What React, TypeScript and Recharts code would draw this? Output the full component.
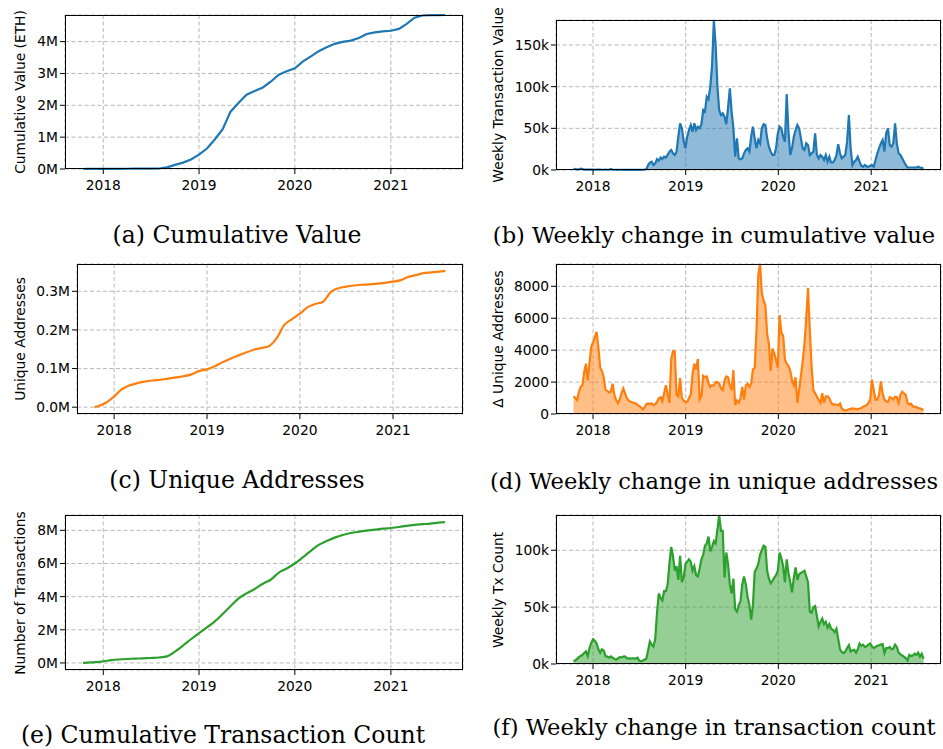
import { LineChart, Line, AreaChart, Area, XAxis, YAxis, CartesianGrid } from "recharts";

// month sample dates for the cumulative curves
const monthDates = [
  "2017-10-16", "2017-11-01", "2017-12-01",
  "2018-01-01", "2018-02-01", "2018-03-01", "2018-04-01", "2018-05-01", "2018-06-01",
  "2018-07-01", "2018-08-01", "2018-09-01", "2018-10-01", "2018-11-01", "2018-12-01",
  "2019-01-01", "2019-02-01", "2019-03-01", "2019-04-01", "2019-05-01", "2019-06-01",
  "2019-07-01", "2019-08-01", "2019-09-01", "2019-10-01", "2019-11-01", "2019-12-01",
  "2020-01-01", "2020-02-01", "2020-03-01", "2020-04-01", "2020-05-01", "2020-06-01",
  "2020-07-01", "2020-08-01", "2020-09-01", "2020-10-01", "2020-11-01", "2020-12-01",
  "2021-01-01", "2021-02-01", "2021-03-01", "2021-04-01", "2021-05-01", "2021-06-01",
  "2021-07-01", "2021-07-26",
];

// (a) cumulative value, M ETH
const cumValue = [
  0, 0.002, 0.004,
  0.005, 0.006, 0.007, 0.008, 0.009, 0.01, 0.011, 0.015, 0.05, 0.13, 0.2, 0.3,
  0.45, 0.65, 0.92, 1.25, 1.8, 2.08, 2.33, 2.45, 2.56, 2.74, 2.96, 3.07,
  3.16, 3.38, 3.53, 3.7, 3.82, 3.93, 3.99, 4.03, 4.11, 4.24, 4.29, 4.32,
  4.34, 4.4, 4.55, 4.75, 4.82, 4.83, 4.833, 4.835,
];

// (c) unique addresses, M
const cumAddr = [
  0, 0.003, 0.012,
  0.028, 0.047, 0.056, 0.062, 0.066, 0.069, 0.071, 0.074, 0.077, 0.08, 0.085, 0.094,
  0.098, 0.106, 0.116, 0.125, 0.133, 0.141, 0.148, 0.153, 0.158, 0.178, 0.213, 0.228,
  0.242, 0.259, 0.267, 0.273, 0.298, 0.308, 0.312, 0.315, 0.317, 0.318, 0.32, 0.322,
  0.325, 0.329, 0.337, 0.342, 0.347, 0.349, 0.351, 0.353,
];

// (e) cumulative tx count, M
const cumTx = [
  0, 0.02, 0.05,
  0.1, 0.17, 0.21, 0.24, 0.26, 0.28, 0.3, 0.33, 0.4, 0.68, 1.05, 1.43,
  1.8, 2.16, 2.49, 2.95, 3.42, 3.9, 4.2, 4.46, 4.78, 5.02, 5.45, 5.7,
  6.0, 6.38, 6.75, 7.12, 7.35, 7.56, 7.72, 7.84, 7.92, 7.98, 8.04, 8.1,
  8.14, 8.2, 8.27, 8.33, 8.37, 8.41, 8.47, 8.5,
];

// weekly series, first week 2017-10-16
const firstWeek = "2017-10-16";

// (b) weekly transaction value, k ETH
const weeklyValue = [
  1.5, 1, 0.8, 0.6, 1.5, 1.2, 0.5, 0.4, 0.6, 0.5,
  0.4, 0.5, 0.3, 0.4, 0.5, 0.4, 0.3, 0.3, 0.4, 0.3,
  0.6, 1, 0.5, 0.3, 0.3, 0.2, 0.3, 0.3, 0.2, 0.2,
  0.3, 0.2, 0.2, 0.3, 0.2, 0.2, 0.2, 0.3, 0.2, 0.3,
  0.5, 1, 6, 9, 10, 6, 8, 13, 11, 15,
  13, 16, 15, 18, 22, 24, 20, 18, 22, 40,
  56, 50, 35, 26, 40, 48, 54, 46, 56, 48,
  52, 50, 55, 72, 70, 88, 85, 100, 125, 180,
  150, 100, 72, 66, 68, 64, 55, 75, 98, 70,
  50, 16, 38, 14, 13, 14, 20, 24, 26, 22,
  40, 52, 38, 26, 36, 32, 50, 55, 54, 38,
  28, 22, 18, 18, 26, 44, 52, 50, 40, 34,
  91, 46, 18, 26, 40, 48, 54, 50, 38, 26,
  24, 32, 30, 18, 20, 22, 44, 18, 14, 18,
  16, 12, 18, 10, 16, 9, 9, 12, 18, 31,
  20, 14, 16, 18, 34, 66, 26, 6, 10, 12,
  16, 10, 5, 4, 6, 4, 4, 5, 6, 4,
  12, 20, 26, 32, 36, 22, 44, 50, 30, 28,
  32, 56, 32, 20, 18, 14, 10, 6, 3, 3,
  3, 3, 3, 3, 4, 3, 2.5, 1.5,
];

// (d) weekly change in unique addresses
const weeklyAddr = [
  1120, 1000, 870, 1350, 1700, 1800, 2600, 3150, 2100, 3200,
  4200, 4500, 4800, 5150, 4200, 2900, 2700, 2300, 1500, 1450,
  1350, 1400, 1900, 1200, 870, 680, 900, 1300, 1600, 1300,
  1000, 850, 770, 740, 700, 660, 580, 500, 420, 290,
  400, 620, 660, 620, 660, 560, 620, 750, 980, 1050,
  800, 1300, 1800, 1200, 700, 3400, 3950, 3900, 1200, 1100,
  2250, 1000, 850, 750, 760, 1000, 1200, 2500, 3150, 2800,
  3450, 900, 1100, 2400, 2300, 2350, 1950, 1700, 1800, 1800,
  2000, 2000, 1900, 1600, 1500, 2100, 2350, 2300, 1800, 1500,
  2750, 560, 850, 700, 1000, 1700, 900, 1800, 1900, 1700,
  1900, 2800, 2900, 5200, 8700, 9400, 7600, 7100, 6800, 5000,
  4400, 2700, 4100, 3800, 3400, 2900, 6200, 5100, 4900, 3400,
  3150, 3000, 2700, 2100, 1800, 2300, 700, 1500, 2400, 3300,
  4400, 6000, 7900, 5300, 3000, 1500, 1300, 1100, 870, 700,
  1300, 700, 1100, 1100, 1000, 700, 600, 600, 580, 560,
  650, 350, 250, 220, 250, 300, 320, 350, 330, 320,
  300, 340, 380, 460, 500, 550, 700, 900, 2150, 1500,
  900, 900, 1200, 2050, 1300, 900, 800, 750, 1050, 1000,
  900, 1080, 1050, 700, 1200, 1400, 1300, 1200, 700, 600,
  650, 470, 460, 430, 360, 350, 300, 250,
];

// (f) weekly tx count, k
const weeklyTx = [
  2.9, 3, 4.5, 6, 7, 8, 9.6, 11, 7, 14,
  18.5, 21.8, 20.5, 18, 13, 10, 13, 12, 7, 6.5,
  5.5, 6.7, 5.5, 4.5, 3.8, 5, 6, 5.8, 6.5, 6.7,
  5.2, 5, 4.8, 5, 5, 4.8, 5.5, 3, 2.3, 3,
  3.8, 4.8, 12, 19.8, 17, 15.4, 22, 45, 62, 58,
  56, 64, 64, 70, 88, 103, 95, 82, 86, 74,
  95, 72, 76, 88, 90, 92, 90, 82, 86, 78,
  77, 84, 92, 96, 104, 106, 112, 99, 103, 108,
  106, 118, 131, 117, 117, 76, 98, 88, 70, 62,
  75, 48, 46, 52, 55, 70, 77, 70, 59, 52,
  39, 52, 81, 84, 88, 96, 100, 104, 103, 82,
  75, 71, 73, 76, 78, 82, 98, 93, 86, 72,
  92, 80, 72, 63, 76, 85, 74, 79, 80, 81,
  82, 77, 72, 46, 45, 50, 51, 42, 33, 37,
  40, 35, 37, 32, 35, 31, 30, 28, 31, 22,
  13, 10.5, 9.6, 11, 14, 16.5, 11, 12, 12.5, 10,
  13, 18, 16, 17, 15, 15.5, 17, 18, 15.5, 14,
  15, 16, 16.5, 17, 17.4, 9.6, 14, 14, 15, 13,
  13.5, 17, 15, 10, 8.5, 7.5, 6.5, 5.2, 3.2, 8,
  7, 7.5, 9, 8, 10, 6.5, 9, 4.6,
];

const yearTicks = [2018, 2019, 2020, 2021].map((y) => Date.UTC(y, 0, 1));

const WEEK = 7 * 86400000;
const t0 = Date.parse(firstWeek);
const weekly = (vals: number[]) => vals.map((v, i) => ({ t: t0 + i * WEEK, v }));
const monthly = (vals: number[]) => monthDates.map((d, i) => ({ t: Date.parse(d), v: vals[i] }));

const tEnd = t0 + (weeklyValue.length - 1) * WEEK;
const xPad = (tEnd - t0) * 0.05;
const xDomain: [number, number] = [t0 - xPad, tEnd + xPad];

const padded = (vals: number[]): [number, number] => {
  const lo = Math.min(...vals), hi = Math.max(...vals);
  const p = (hi - lo) * 0.05;
  return [lo - p, hi + p];
};

const tickFont = { fill: "#000", fontSize: 13.8, fontFamily: "DejaVu Sans" };
const YW = 60, XH = 30, PAD = 6;

type PanelProps = {
  data: { t: number; v: number }[];
  box: [number, number, number, number];
  yDomain: [number, number];
  yTicks: number[];
  yFmt: (v: number) => string;
  color: string;
  area?: boolean;
  curve?: "linear" | "monotone";
  yLabel: string;
  labelX: number;
  caption: string;
  capX: number;
  capBase: number;
  capSize: number;
};

function Panel(p: PanelProps) {
  const [L, T, R, B] = p.box;
  const Chart = p.area ? AreaChart : LineChart;
  const axes = [
    <CartesianGrid key="g" stroke="#b0b0b0" strokeDasharray="4 2.5" strokeWidth={0.9} />,
    <XAxis
      key="x"
      dataKey="t"
      type="number"
      domain={xDomain}
      ticks={yearTicks}
      interval={0}
      tickFormatter={(t: number) => String(new Date(t).getUTCFullYear())}
      height={XH}
      tickSize={5}
      tickMargin={6}
      axisLine={false}
      tickLine={{ stroke: "#000" }}
      tick={tickFont}
    />,
    <YAxis
      key="y"
      type="number"
      domain={p.yDomain}
      ticks={p.yTicks}
      interval={0}
      tickFormatter={p.yFmt}
      width={YW}
      tickSize={5}
      tickMargin={2}
      axisLine={false}
      tickLine={{ stroke: "#000" }}
      tick={tickFont}
    />,
  ];
  return (
    <>
      <div style={{ position: "absolute", left: L - YW, top: T - PAD }}>
        <Chart
          width={R - L + YW + PAD}
          height={B - T + PAD + XH}
          data={p.data}
          margin={{ top: PAD, right: PAD, left: 0, bottom: 0 }}
        >
          {axes}
          {p.area ? (
            <Area
              type="linear"
              dataKey="v"
              stroke={p.color}
              strokeWidth={2.2}
              fill={p.color}
              fillOpacity={0.5}
              dot={false}
              activeDot={false}
              isAnimationActive={false}
            />
          ) : (
            <Line
              type={p.curve ?? "linear"}
              dataKey="v"
              stroke={p.color}
              strokeWidth={2.2}
              dot={false}
              activeDot={false}
              isAnimationActive={false}
            />
          )}
        </Chart>
      </div>
      <div
        style={{
          position: "absolute",
          left: L,
          top: T,
          width: R - L,
          height: B - T,
          boxSizing: "border-box",
          border: "1px solid #000",
          pointerEvents: "none",
        }}
      />
      <div
        style={{
          position: "absolute",
          left: p.labelX,
          top: (T + B) / 2,
          transform: "translate(-50%, -50%) rotate(-90deg)",
          whiteSpace: "nowrap",
          fontFamily: "DejaVu Sans",
          fontSize: 13.8,
          lineHeight: "16px",
          color: "#000",
        }}
      >
        {p.yLabel}
      </div>
      <div
        style={{
          position: "absolute",
          left: p.capX,
          top: p.capBase - 19.5,
          transform: "translateX(-50%)",
          whiteSpace: "nowrap",
          fontFamily: "DejaVu Serif",
          fontSize: p.capSize,
          lineHeight: "23px",
          color: "#000",
        }}
      >
        {p.caption}
      </div>
    </>
  );
}

const fmtM = (v: number) => `${v}M`;
const fmtM1 = (v: number) => `${v.toFixed(1)}M`;
const fmtK = (v: number) => `${v}k`;

export default function App() {
  return (
    <div
      style={{
        position: "absolute",
        left: 0,
        top: 0,
        width: 943,
        height: 749,
        overflow: "hidden",
        background: "#fff",
      }}
    >
      <Panel
        data={monthly(cumValue)}
        box={[65, 15, 463, 169]}
        yDomain={[0, Math.max(...cumValue)]}
        yTicks={[0, 1, 2, 3, 4]}
        yFmt={fmtM}
        color="#1f77b4"
        yLabel="Cumulative Value (ETH)"
        labelX={20}
        caption="(a) Cumulative Value"
        capX={237}
        capBase={243}
        capSize={23.5}
      />
      <Panel
        data={weekly(weeklyValue)}
        box={[556, 20, 941, 170]}
        yDomain={[0, Math.max(...weeklyValue)]}
        yTicks={[0, 50, 100, 150]}
        yFmt={fmtK}
        color="#1f77b4"
        area
        yLabel="Weekly Transaction Value"
        labelX={498}
        caption="(b) Weekly change in cumulative value"
        capX={714}
        capBase={243}
        capSize={22.6}
      />
      <Panel
        data={monthly(cumAddr)}
        box={[77, 264, 463, 414]}
        yDomain={padded(cumAddr)}
        yTicks={[0, 0.1, 0.2, 0.3]}
        yFmt={fmtM1}
        color="#ff7f0e"
        curve="monotone"
        yLabel="Unique Addresses"
        labelX={20}
        caption="(c) Unique Addresses"
        capX={237}
        capBase={488}
        capSize={23.5}
      />
      <Panel
        data={weekly(weeklyAddr)}
        box={[556, 264, 941, 414]}
        yDomain={[0, Math.max(...weeklyAddr)]}
        yTicks={[0, 2000, 4000, 6000, 8000]}
        yFmt={(v: number) => String(v)}
        color="#ff7f0e"
        area
        yLabel="Δ Unique Addresses"
        labelX={498}
        caption="(d) Weekly change in unique addresses"
        capX={714}
        capBase={489}
        capSize={22.6}
      />
      <Panel
        data={monthly(cumTx)}
        box={[65, 515, 463, 670]}
        yDomain={padded(cumTx)}
        yTicks={[0, 2, 4, 6, 8]}
        yFmt={fmtM}
        color="#2ca02c"
        curve="monotone"
        yLabel="Number of Transactions"
        labelX={20}
        caption="(e) Cumulative Transaction Count"
        capX={223}
        capBase={743}
        capSize={23.5}
      />
      <Panel
        data={weekly(weeklyTx)}
        box={[556, 515, 941, 664]}
        yDomain={[0, Math.max(...weeklyTx)]}
        yTicks={[0, 50, 100]}
        yFmt={fmtK}
        color="#2ca02c"
        area
        yLabel="Weekly Tx Count"
        labelX={498}
        caption="(f) Weekly change in transaction count"
        capX={714}
        capBase={735}
        capSize={22.6}
      />
    </div>
  );
}
